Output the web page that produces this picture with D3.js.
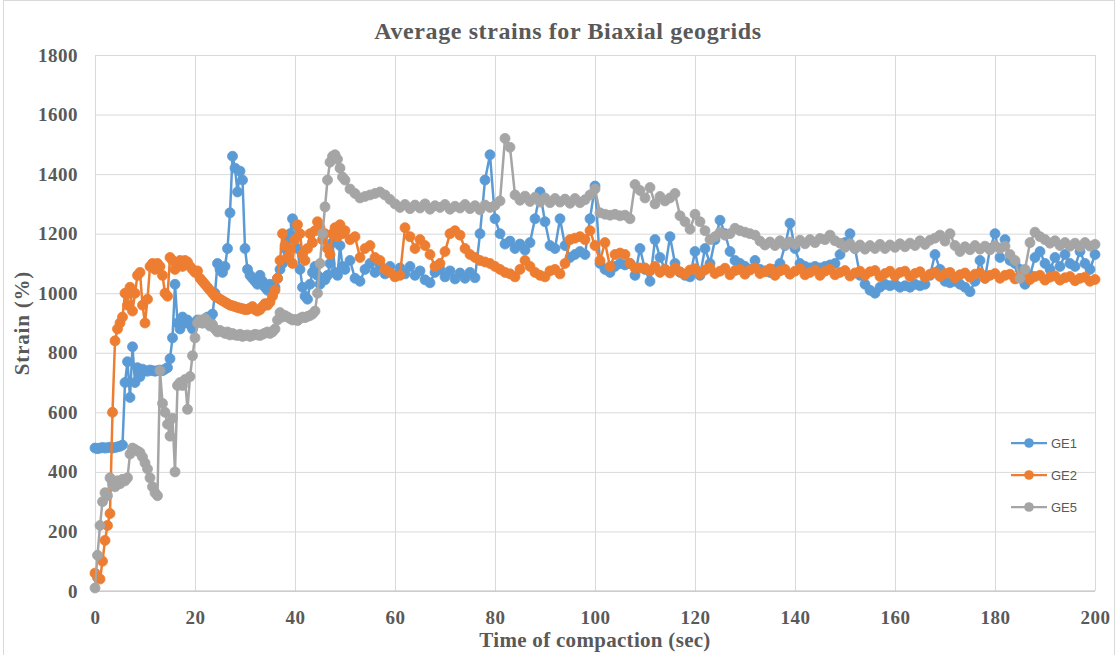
<!DOCTYPE html>
<html>
<head>
<meta charset="utf-8">
<script src="https://cdn.jsdelivr.net/npm/d3@7"></script>
<style>
body { margin: 0; background: #fff; }
</style>
</head>
<body>
<svg width="1119" height="655"></svg>
<script>
const chartTitle = 'Average strains for Biaxial geogrids';
const xTitle = 'Time of compaction (sec)';
const yTitle = 'Strain (%)';
const xTicks = [0, 20, 40, 60, 80, 100, 120, 140, 160, 180, 200];
const yTicks = [0, 200, 400, 600, 800, 1000, 1200, 1400, 1600, 1800];
const seriesNames = ['GE1', 'GE2', 'GE5'];
const seriesColors = ['#5B9BD5', '#ED7D31', '#A5A5A5'];

// sampling: every 0.5 s up to 50 s, then every 1 s
const time = d3.range(0, 50, 0.5).concat(d3.range(50, 201, 1));

const ge1 = [
  480, 478, 480, 482, 480, 481, 483, 480, 482, 484,
  486, 490, 700, 770, 650, 820, 700, 750, 720, 745,
  740, 738, 742, 740, 738, 740, 742, 740, 745, 750,
  780, 850, 1030, 900, 880, 920, 900, 910, 895, 880,
  900, 910, 905, 900, 910, 920, 915, 930, 1000, 1100,
  1080, 1070, 1090, 1150, 1270, 1460, 1420, 1340, 1410, 1380,
  1150, 1080, 1060, 1050, 1040, 1030, 1060, 1040, 1020, 1010,
  1030, 1000, 1020, 1050, 1080, 1100, 1150, 1180, 1200, 1250,
  1230, 1150, 1080, 1020, 990, 980, 1030, 1070, 1090, 1060,
  1030, 1050, 1045, 1060, 1100, 1170, 1070, 1060, 1160, 1090,
  // 50 s ->
  1080, 1110, 1050, 1040, 1080, 1100, 1070, 1095, 1065, 1090,
  1060, 1085, 1065, 1090, 1060, 1075, 1045, 1035, 1070, 1080,
  1055, 1075, 1048, 1068, 1050, 1070, 1052, 1200, 1380, 1465,
  1250, 1200, 1165, 1175, 1150, 1165, 1145, 1170, 1250, 1340,
  1240, 1160, 1150, 1250, 1160, 1120, 1130, 1140, 1130, 1250,
  1360, 1100, 1080, 1070, 1090, 1100, 1095, 1100, 1060, 1150,
  1080, 1040, 1180, 1120, 1080, 1190, 1100, 1070, 1060, 1055,
  1140, 1060, 1150, 1100, 1180, 1245, 1200, 1140, 1110, 1100,
  1090, 1080, 1110, 1080, 1075, 1070, 1080, 1100, 1160, 1235,
  1150, 1100, 1090, 1085, 1090, 1085, 1090, 1095, 1100, 1130,
  1170, 1200, 1150, 1060, 1030, 1010, 1000, 1020, 1030, 1025,
  1030, 1020, 1025, 1020, 1030, 1025, 1030, 1060, 1130, 1080,
  1040, 1035, 1040, 1030, 1020, 1005, 1040, 1110, 1050, 1150,
  1200, 1120, 1180, 1110, 1100, 1080, 1030, 1060, 1120, 1140,
  1100, 1080, 1120, 1090, 1130, 1100, 1090, 1140, 1100, 1080,
  1130
];

const ge2 = [
  60, 45, 40, 100, 170, 220, 260, 600, 840, 880,
  900, 920, 1000, 960, 1020, 940, 1000, 1060, 1070, 960,
  900, 980, 1090, 1100, 1080, 1100, 1090, 1060, 1000, 990,
  1120, 1110, 1080, 1100, 1110, 1090, 1110, 1105, 1090, 1080,
  1070, 1075, 1050, 1040, 1030, 1020, 1010, 1000, 990, 985,
  980, 975, 970, 965, 960, 958, 955, 952, 950, 948,
  945, 945, 950, 955, 945, 940, 945, 955, 965, 960,
  970, 990, 1010, 1050, 1110, 1200, 1160, 1120, 1150, 1100,
  1180, 1230, 1200, 1130, 1110, 1150, 1200, 1170, 1210, 1240,
  1220, 1180, 1200, 1150, 1130, 1200, 1220, 1190, 1230, 1200,
  // 50 s ->
  1210, 1180, 1190, 1120, 1150, 1160, 1120, 1110, 1080, 1070,
  1055, 1060, 1220, 1190, 1150, 1180, 1160, 1130, 1090, 1100,
  1140, 1200, 1210, 1195, 1150, 1130, 1120, 1110, 1105, 1100,
  1090, 1080, 1070, 1065, 1055, 1080, 1110, 1090, 1070, 1060,
  1055, 1075, 1080, 1065, 1100, 1180, 1185, 1190, 1180, 1210,
  1160, 1110, 1170, 1090, 1130, 1135, 1130, 1100, 1085, 1085,
  1085, 1075, 1090, 1070, 1080, 1068, 1085, 1072, 1064, 1078,
  1082, 1065, 1078, 1086, 1066, 1074, 1084, 1062, 1076, 1080,
  1064, 1078, 1085, 1066, 1072, 1082, 1060, 1075, 1080, 1064,
  1074, 1082, 1062, 1070, 1078, 1060, 1074, 1080, 1062, 1070,
  1076, 1058, 1068, 1074, 1060, 1072, 1076, 1056, 1066, 1074,
  1058, 1070, 1074, 1056, 1066, 1072, 1054, 1064, 1070, 1056,
  1066, 1070, 1052, 1062, 1068, 1054, 1064, 1068, 1050, 1060,
  1066, 1050, 1060, 1064, 1048, 1058, 1062, 1046, 1056, 1060,
  1044, 1054, 1058, 1044, 1052, 1056, 1042, 1050, 1054, 1040,
  1046
];

const ge5 = [
  10, 120, 220, 300, 330, 320, 380, 360, 350, 370,
  360, 375, 370, 380, 460, 480, 475, 470, 465, 450,
  430, 410, 380, 350, 330, 320, 740, 630, 600, 560,
  520, 580, 400, 690, 700, 690, 710, 610, 720, 790,
  850, 900, 910, 900, 915, 905, 890, 895, 880, 870,
  875, 870, 865, 870, 860, 865, 860, 858, 862, 855,
  858, 860, 855, 858, 862, 860, 858, 862, 866, 870,
  865, 870, 880, 910, 935, 920, 925, 920, 915, 910,
  912, 908, 915, 920, 918, 922, 925, 930, 940, 1000,
  1100, 1200, 1290, 1380, 1440, 1460, 1465, 1450, 1420, 1390,
  // 50 s ->
  1380, 1350, 1335, 1320, 1325, 1330, 1335, 1340, 1330, 1315,
  1300, 1288, 1298, 1284, 1296, 1286, 1300, 1282, 1294, 1288,
  1298, 1282, 1292, 1286, 1298, 1284, 1294, 1280, 1296, 1288,
  1295, 1310, 1520, 1490, 1330, 1312, 1326, 1308, 1322, 1306,
  1320, 1304, 1318, 1306, 1316, 1302, 1318, 1304, 1314, 1330,
  1350, 1270, 1265, 1262, 1265, 1260, 1262, 1250, 1365, 1345,
  1320, 1355, 1300, 1325, 1310, 1320, 1335, 1260, 1240, 1215,
  1265, 1240, 1210, 1180, 1190, 1205, 1195, 1200, 1218, 1210,
  1205, 1200, 1195, 1175, 1162, 1172, 1160, 1176, 1162, 1172,
  1164, 1178, 1166, 1180, 1170, 1184, 1180, 1195, 1176, 1168,
  1154, 1166, 1150, 1162, 1148, 1160, 1150, 1164, 1150, 1162,
  1154, 1166, 1156, 1168, 1160, 1176, 1164, 1178, 1185, 1195,
  1175, 1200, 1160, 1140, 1156, 1146, 1160, 1148, 1158, 1146,
  1160, 1150, 1158, 1130, 1110, 1050, 1080, 1170, 1205, 1190,
  1180, 1168, 1176, 1160, 1170, 1158, 1168, 1156, 1170, 1158,
  1164
];

const seriesValues = [ge1, ge2, ge5];

const svg = d3.select('svg');
const serif = '"Liberation Serif", "Times New Roman", serif';
const textColor = '#595959';

const x = d3.scaleLinear().domain([0, 200]).range([95, 1095]);
const y = d3.scaleLinear().domain([0, 1800]).range([591, 55]);

// chart border
svg.append('rect')
    .attr('x', 3.5).attr('y', 0.5)
    .attr('width', 1111).attr('height', 670)
    .attr('fill', 'none').attr('stroke', '#d9d9d9');

// y axis + horizontal grid
const yAxis = svg.append('g')
    .attr('transform', 'translate(95,0)')
    .call(d3.axisLeft(y).tickValues(yTicks).tickFormat(d3.format('d')).tickSize(-1000).tickPadding(17));
yAxis.select('.domain').remove();
yAxis.selectAll('line').attr('stroke', '#d9d9d9');
yAxis.selectAll('text')
    .style('font-family', serif).style('font-weight', 'bold')
    .style('font-size', '19px').style('letter-spacing', '0.5px').attr('fill', textColor);

// x axis + vertical grid
const xAxis = svg.append('g')
    .attr('transform', 'translate(0,591)')
    .call(d3.axisBottom(x).tickValues(xTicks).tickSize(-536).tickPadding(20));
xAxis.select('.domain').remove();
xAxis.selectAll('line').attr('stroke', '#d9d9d9');
xAxis.selectAll('text')
    .style('font-family', serif).style('font-weight', 'bold')
    .style('font-size', '19px').style('letter-spacing', '0.5px').attr('fill', textColor);

svg.append('line')
    .attr('x1', x(0)).attr('x2', x(200))
    .attr('y1', y(0)).attr('y2', y(0))
    .attr('stroke', '#bfbfbf');

// series
const line = d3.line()
    .x((d, i) => x(time[i]))
    .y(d => y(d));

seriesValues.forEach((vals, k) => {
    const g = svg.append('g');
    g.append('path')
        .attr('d', line(vals))
        .attr('fill', 'none')
        .attr('stroke', seriesColors[k])
        .attr('stroke-width', 2.5);
    g.selectAll('circle').data(vals).join('circle')
        .attr('cx', (d, i) => x(time[i]))
        .attr('cy', d => y(d))
        .attr('r', 5)
        .attr('fill', seriesColors[k])
        .attr('stroke', seriesColors[k])
        .attr('stroke-width', 0.8);
});

// titles
svg.append('text')
    .attr('x', 568).attr('y', 39)
    .attr('text-anchor', 'middle')
    .style('font-family', serif).style('font-weight', 'bold')
    .style('font-size', '24px').style('letter-spacing', '0.6px').attr('fill', textColor)
    .text(chartTitle);

svg.append('text')
    .attr('x', 595).attr('y', 647)
    .attr('text-anchor', 'middle')
    .style('font-family', serif).style('font-weight', 'bold')
    .style('font-size', '21px').style('letter-spacing', '0.3px').attr('fill', textColor)
    .text(xTitle);

svg.append('text')
    .attr('transform', 'translate(29,323) rotate(-90)')
    .attr('text-anchor', 'middle')
    .style('font-family', serif).style('font-weight', 'bold')
    .style('font-size', '21px').style('letter-spacing', '0.8px').attr('fill', textColor)
    .text(yTitle);

// legend
const legend = svg.append('g').selectAll('g')
    .data(seriesNames).join('g')
    .attr('transform', (d, i) => `translate(1011,${443 + i * 32})`);
legend.append('line')
    .attr('x1', 0).attr('x2', 36)
    .attr('stroke', (d, i) => seriesColors[i])
    .attr('stroke-width', 2.25);
legend.append('circle')
    .attr('cx', 18).attr('r', 4.8)
    .attr('fill', (d, i) => seriesColors[i]);
legend.append('text')
    .attr('x', 40).attr('dy', '0.35em')
    .style('font-family', '"Liberation Sans", Arial, sans-serif')
    .style('font-size', '13px').attr('fill', textColor)
    .text(d => d);
</script>
</body>
</html>
